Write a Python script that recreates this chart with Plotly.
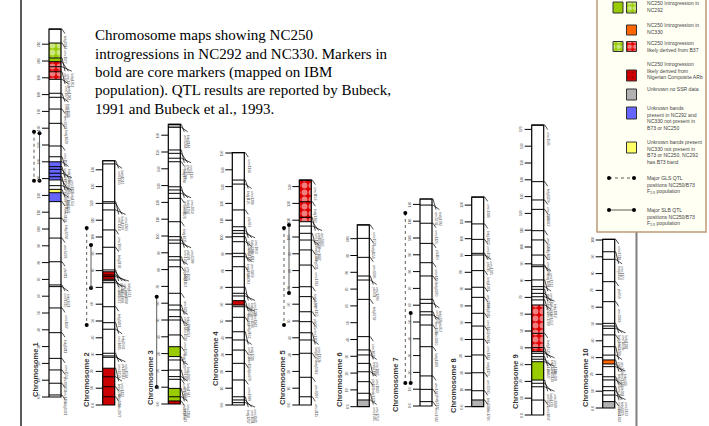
import plotly.graph_objects as go

# ---------------------------------------------------------------- data
chrom_names = ["Chromosome 1", "Chromosome 2", "Chromosome 3", "Chromosome 4", "Chromosome 5",
               "Chromosome 6", "Chromosome 7", "Chromosome 8", "Chromosome 9", "Chromosome 10"]
chrom_length = [219.0, 145.4, 166.5, 150.2, 133.9, 108.2, 123.2, 124.8, 172.6, 100.4]
tick_step = 10

markers_chr1 = [(219.0, "bnlg1014"), (210.7, "umc1177"), (201.8, "phi056"), (199.6, "umc1269"),
                (196.6, "bnlg1953"), (193.6, "umc1073"), (189.1, "bnlg1083"), (180.8, "umc1403"),
                (178.4, "bnlg1178"), (171.4, "umc1071"), (162.9, "bnlg1429"), (149.4, "umc1122"),
                (143.0, "umc1013"), (140.0, "bnlg1884"), (137.1, "umc2047"), (135.5, "bnlg2086"),
                (133.2, "umc1917"), (131.1, "phi037"), (129.2, "umc1035"), (125.8, "bnlg1556"),
                (123.6, "umc1161"), (121.6, "bnlg1025"), (116.3, "umc1128"), (106.4, "bnlg2238"),
                (94.6, "umc1278"), (80.5, "phi011"), (66.7, "umc1335"), (65.7, "bnlg1671"),
                (53.0, "umc1147"), (38.3, "bnlg1811"), (23.0, "umc1553"), (16.1, "phi308707"),
                (8.2, "umc1106"), (1.2, "bnlg1331")]
markers_chr2 = [(145.4, "umc1165"), (143.5, "bnlg1017"), (121.0, "umc1518"), (120.1, "bnlg1297"),
                (116.1, "umc2246"), (104.2, "umc1065"), (93.9, "bnlg1138"), (80.4, "umc1555"),
                (79.3, "phi083"), (77.4, "umc1079"), (76.4, "bnlg1633"), (74.8, "umc1637"),
                (74.0, "bnlg1909"), (72.8, "umc1008"), (58.5, "bnlg1831"), (49.0, "umc1485"),
                (45.1, "bnlg1662"), (30.8, "umc1259"), (29.2, "phi109642"), (28.4, "umc1024"),
                (21.9, "bnlg1338"), (16.8, "umc1422"), (10.9, "bnlg2248"), (4.9, "umc2077")]
markers_chr3 = [(166.5, "umc1394"), (164.7, "bnlg1144"), (151.2, "umc1320"), (149.2, "phi046"),
                (146.3, "umc1136"), (144.2, "bnlg1798"), (129.3, "umc1489"), (127.4, "bnlg1754"),
                (125.4, "umc2050"), (122.4, "umc1174"), (108.5, "bnlg1035"), (99.6, "umc1266"),
                (97.6, "phi029"), (95.7, "umc1399"), (87.7, "bnlg1449"), (85.7, "umc1025"),
                (81.7, "bnlg1113"), (65.9, "umc1223"), (58.9, "umc1167"), (56.0, "bnlg1904"),
                (52.0, "umc1030"), (50.0, "phi053"), (41.1, "umc1504"), (34.1, "bnlg1325"),
                (28.2, "umc1307"), (26.2, "bnlg2047"), (20.2, "umc1742"), (16.3, "bnlg1647"),
                (14.7, "umc1594"), (9.3, "phi243966"), (4.3, "umc2118"), (1.8, "bnlg1523")]
markers_chr4 = [(150.2, "umc1164"), (133.9, "bnlg1126"), (131.5, "umc1294"), (116.1, "phi072"),
                (106.1, "umc1276"), (103.8, "bnlg2291"), (102.2, "umc1963"), (100.2, "bnlg1189"),
                (97.2, "umc1117"), (90.3, "bnlg1937"), (88.3, "umc1869"), (82.3, "phi093"),
                (70.1, "umc1088"), (66.5, "bnlg1265"), (64.9, "umc1329"), (62.1, "bnlg490"),
                (59.5, "umc1194"), (58.5, "umc1943"), (52.2, "bnlg2162"), (43.6, "umc1086"),
                (38.7, "bnlg1784"), (32.7, "umc1058"), (24.8, "phi079"), (14.9, "umc1999"),
                (4.9, "bnlg1217"), (3.0, "umc1101"), (1.4, "umc2041")]
markers_chr5 = [(133.9, "umc1153"), (121.0, "bnlg1346"), (111.7, "umc1019"), (109.1, "phi109188"),
                (106.5, "umc1060"), (102.2, "bnlg1879"), (98.2, "umc1447"), (92.3, "bnlg609"),
                (83.3, "umc1792"), (70.4, "bnlg1208"), (64.5, "umc1155"), (55.5, "phi085"),
                (49.6, "umc1315"), (43.0, "bnlg1046"), (38.7, "umc1153b"), (30.8, "bnlg1382"),
                (16.5, "umc1097"), (4.9, "umc2115")]
markers_chr6 = [(108.2, "umc1520"), (100.2, "bnlg1154"), (88.9, "umc1006"), (77.8, "phi031"),
                (75.4, "umc1296"), (63.9, "bnlg1702"), (41.7, "umc1424"), (33.8, "bnlg2191"),
                (30.8, "umc1887"), (25.8, "phi126"), (20.8, "umc1143"), (14.9, "bnlg1371"),
                (8.0, "umc1595"), (4.0, "umc1753")]
markers_chr7 = [(123.2, "umc1768"), (119.6, "bnlg1792"), (108.8, "umc1125"), (96.8, "phi116"),
                (85.3, "umc1406"), (77.4, "bnlg1070"), (63.5, "umc1567"), (61.1, "bnlg339"),
                (56.1, "umc1015"), (54.2, "phi057"), (48.2, "umc1036"), (35.3, "bnlg1200"),
                (17.9, "umc1426"), (9.9, "bnlg2132"), (2.6, "umc1642")]
markers_chr8 = [(124.8, "umc1384"), (108.8, "bnlg1823"), (99.6, "umc1005"), (91.3, "phi015"),
                (90.3, "umc1075"), (81.0, "bnlg1031"), (71.1, "umc1139"), (65.1, "bnlg2046"),
                (55.6, "umc1457"), (48.0, "phi014"), (40.1, "umc1483"), (30.8, "bnlg1176"),
                (20.2, "umc1360"), (9.5, "bnlg1056"), (4.0, "umc1786")]
markers_chr9 = [(172.6, "umc1505"), (138.9, "bnlg1209"), (128.0, "umc1040"), (122.4, "phi022"),
                (109.7, "umc1267"), (104.2, "bnlg1401"), (95.2, "umc1492"), (89.3, "bnlg1191"),
                (88.3, "umc1733"), (80.4, "phi065"), (76.4, "umc1357"), (74.8, "bnlg127"),
                (72.4, "umc2337"), (70.4, "bnlg1012"), (68.5, "umc1789"), (65.5, "umc1657"),
                (48.6, "bnlg1525"), (40.1, "umc1366"), (37.7, "bnlg1272"), (36.7, "umc1310"),
                (34.7, "phi027"), (33.2, "umc1120"), (31.7, "bnlg619"), (20.8, "umc1231"),
                (18.9, "bnlg1270"), (16.8, "umc2089"), (8.9, "umc1867")]
markers_chr10 = [(100.4, "umc1318"), (93.0, "bnlg1451"), (88.5, "umc1176"), (75.2, "phi050"),
                 (63.3, "umc1038"), (50.4, "bnlg1655"), (48.8, "umc1869b"), (47.4, "bnlg1028"),
                 (43.5, "umc1280"), (36.5, "phi062"), (31.5, "umc1506"), (28.6, "bnlg1839"),
                 (26.2, "umc1344"), (24.6, "bnlg640"), (18.6, "umc1645"), (16.7, "phi041"),
                 (12.7, "umc1053"), (10.3, "bnlg1079"), (7.7, "umc2163"), (3.8, "umc1432")]

segments_chr1 = [(201.8, 210.7, "b37_green"), (199.6, 201.8, "nc292"), (189.1, 199.6, "b37_red"),
                 (129.2, 140.0, "unk_blue"), (121.6, 123.6, "unk_yellow"), (116.3, 121.6, "unk_blue")]
segments_chr2 = [(74.8, 79.3, "arb"), (0.0, 21.9, "arb")]
segments_chr3 = [(164.7, 166.5, "no_ssr"), (28.2, 34.1, "nc292"), (1.8, 9.3, "nc292"), (0.0, 1.8, "arb")]
segments_chr4 = [(59.5, 62.1, "arb")]
segments_chr5 = [(109.1, 133.9, "b37_red")]
segments_chr6 = [(0.0, 4.0, "no_ssr")]
segments_chr7 = []
segments_chr8 = [(0.0, 4.0, "no_ssr")]
segments_chr9 = [(37.7, 65.5, "b37_red"), (20.8, 31.7, "nc292")]
segments_chr10 = [(26.2, 28.6, "nc330"), (0.0, 3.8, "no_ssr")]

qtl_gls = [(1, 157.9, 128.7), (2, 105.4, 47.6), (5, 105.4, 47.6), (7, 114.9, 13.7)]
qtl_slb = [(1, 157.0, 128.7), (2, 95.2, 69.6), (3, 63.9, 10.1), (5, 107.1, 66.7), (7, 55.4, 13.7)]

caption_lines = ["Chromosome maps showing NC250",
                 "introgressions in NC292 and NC330. Markers in",
                 "bold are core markers (mapped on IBM",
                 "population). QTL results are reported by Bubeck,",
                 "1991 and Bubeck et al., 1993."]

legend_entries = [
    (["nc292", "b37_green"], "NC250 Introgression in<br>NC292"),
    (["nc330"], "NC250 Introgression in<br>NC330"),
    (["b37_green", "b37_red"], "NC250 Introgression<br>likely derived from B37"),
    (["arb"], "NC250 Introgression<br>likely derived from<br>Nigerian Composite ARb"),
    (["no_ssr"], "Unknown no SSR data"),
    (["unk_blue"], "Unknown bands<br>present in NC292 and<br>NC330 not present in<br>B73 or NC250"),
    (["unk_yellow"], "Unknown bands present<br>NC330 not present in<br>B73 or NC250, NC292<br>has B73 band"),
    (["gls"], "Major GLS QTL<br>positions NC250/B73<br>F<sub>2:3</sub> population"),
    (["slb"], "Major SLB QTL<br>positions NC250/B73<br>F<sub>2:3</sub> population"),
]

# ---------------------------------------------------------------- styles / layout
W, H = 709, 426
PX_PER_CM = 1.68
BASE_PX = 405.0
Y_MIN = (BASE_PX - H) / PX_PER_CM
Y_MAX = BASE_PX / PX_PER_CM

fills = {
    "nc292": dict(color="#99CC00"),
    "nc330": dict(color="#FF6600"),
    "b37_green": dict(color="#99CC00", pattern=True),
    "b37_red": dict(color="#E00000", pattern=True),
    "arb": dict(color="#CC0000"),
    "no_ssr": dict(color="#B2B2B2"),
    "unk_blue": dict(color="#6666FF"),
    "unk_yellow": dict(color="#FFFF66"),
}

markers_all = [markers_chr1, markers_chr2, markers_chr3, markers_chr4, markers_chr5,
               markers_chr6, markers_chr7, markers_chr8, markers_chr9, markers_chr10]
segments_all = [segments_chr1, segments_chr2, segments_chr3, segments_chr4, segments_chr5,
                segments_chr6, segments_chr7, segments_chr8, segments_chr9, segments_chr10]

bar_left = [49.0, 102.7, 168.3, 232.3, 299.3, 357.3, 420.0, 471.7, 531.7, 602.7]
BAR_W = 12.0
base_px = [397, 405, 404, 405, 405, 406.7, 406, 406.7, 415, 408]
label_pos = [(35, 370), (86, 380), (150, 378), (215, 359), (282, 378),
             (339, 380), (395, 385), (453, 386), (515, 382), (585, 378)]
qtl_x_gls = {1: 34.0, 2: 86.7, 5: 284.0, 7: 405.3}
qtl_x_slb = {1: 39.5, 2: 91.0, 3: 156.7, 5: 289.0, 7: 410.7}


def Y(px):
    """layout pixel row -> axis value"""
    return (BASE_PX - px) / PX_PER_CM


def D(px):
    return px / PX_PER_CM


offset = [(BASE_PX - b) / PX_PER_CM for b in base_px]
centers = [l + BAR_W / 2 for l in bar_left]

fig = go.Figure()
annotations = []
shapes = []

# frame lines
shapes.append(dict(type="line", xref="x", yref="y", x0=21, x1=21, y0=Y(-2), y1=Y(430),
                   line=dict(color="#222222", width=1.5), layer="below"))
shapes.append(dict(type="line", xref="x", yref="y", x0=636.5, x1=636.5, y0=Y(-2), y1=Y(430),
                   line=dict(color="#808080", width=2), layer="below"))
# legend box
shapes.append(dict(type="rect", xref="x", yref="y", x0=597, x1=706, y0=Y(-3), y1=Y(232),
                   fillcolor="#FFFFF4", line=dict(color="#BC9A78", width=1.5), layer="below"))

# chromosome bodies
fig.add_trace(go.Bar(x=centers, y=chrom_length, base=offset, width=[BAR_W] * 10,
                     marker=dict(color="white", line=dict(width=0)), hoverinfo="skip"))

# coloured segments
for key, st in fills.items():
    xs, ys, bs = [], [], []
    for i, segs in enumerate(segments_all):
        for (a, b, k) in segs:
            if k == key:
                xs.append(centers[i]); ys.append(b - a); bs.append(a + offset[i])
    if not xs:
        continue
    mk = dict(color=st["color"], line=dict(width=0))
    if st.get("pattern"):
        mk["pattern"] = dict(shape=".", fgcolor="white", bgcolor=st["color"], size=7,
                             solidity=0.55, fillmode="overlay")
    fig.add_trace(go.Bar(x=xs, y=ys, base=bs, width=[BAR_W] * len(xs), marker=mk, hoverinfo="skip"))

# marker lines across, ticks, outlines, leaders
mx, my, tx, ty, ox, oy, lx, ly = [], [], [], [], [], [], [], []
for i in range(10):
    L, R = bar_left[i], bar_left[i] + BAR_W
    off = offset[i]
    top = chrom_length[i] + off
    ox += [L, R, R, L, L, None]; oy += [off, off, top, top, off, None]
    # ticks
    v = 0
    while v <= chrom_length[i] + 0.01:
        tx += [L - 7, L, None]; ty += [v + off, v + off, None]
        annotations.append(dict(x=L - 10, y=v + off, text="0.0" if v == 0 else str(v), showarrow=False,
                                textangle=-90, font=dict(size=3.4, color="#555555",
                                                        family="Liberation Sans")))
        v += tick_step
    # markers
    ms = sorted(markers_all[i], key=lambda m: -m[0])
    for (p, _) in ms:
        mx += [L, R, None]; my += [p + off, p + off, None]
    groups = []
    for m in ms:
        if groups and (groups[-1][0][0] - m[0]) < D(9) and len(groups[-1]) < 7:
            groups[-1].append(m)
        else:
            groups.append([m])
    for g in groups:
        lab_top = min(p for p, _ in g) + off - D(5)
        for k, (p, name) in enumerate(g):
            xk = R + 4 + 3.4 * k
            lx += [R, R + 1, xk, None]; ly += [p + off, p + off, lab_top + D(0.5), None]
            annotations.append(dict(x=xk + 0.3, y=lab_top, text=name, showarrow=False, textangle=90,
                                    xanchor="center", yanchor="top",
                                    font=dict(size=3.3, color="#555555", family="Liberation Sans")))

fig.add_trace(go.Scatter(x=mx, y=my, mode="lines", line=dict(color="black", width=1), hoverinfo="skip"))
fig.add_trace(go.Scatter(x=tx, y=ty, mode="lines", line=dict(color="black", width=1), hoverinfo="skip"))
fig.add_trace(go.Scatter(x=lx, y=ly, mode="lines", line=dict(color="black", width=0.7), hoverinfo="skip"))
fig.add_trace(go.Scatter(x=ox, y=oy, mode="lines", line=dict(color="black", width=1.2), hoverinfo="skip"))

# QTL bars
for data, xpos, dash in [(qtl_gls, qtl_x_gls, "dot"), (qtl_slb, qtl_x_slb, "solid")]:
    qx, qy = [], []
    for (c, a, b) in data:
        qx += [xpos[c], xpos[c], None]; qy += [a + offset[c - 1], b + offset[c - 1], None]
    fig.add_trace(go.Scatter(x=qx, y=qy, mode="lines+markers", line=dict(color="#333333", width=0.8, dash=dash),
                             marker=dict(color="black", size=4), hoverinfo="skip"))

# chromosome labels
for i, (lxp, lyp) in enumerate(label_pos):
    annotations.append(dict(x=lxp, y=Y(lyp), text="<b>%s</b>" % chrom_names[i], showarrow=False,
                            textangle=-90, font=dict(size=7.5, color="#333333", family="Liberation Sans")))

# caption
cap_y = [35, 53.5, 72, 90.5, 109]
for t, yy in zip(caption_lines, cap_y):
    annotations.append(dict(x=93, y=Y(yy), text=t, showarrow=False, xanchor="left", yanchor="middle",
                            font=dict(size=15, color="black", family="Liberation Serif")))

# legend
leg_y = [(2, 13), (25, 35), (41.5, 51.5), (70, 81), (89, 100), (107, 119), (142, 153), (178, 178), (210, 210)]
leg_text_y = [6.7, 28.5, 46.5, 70, 89.3, 118.3, 151.7, 185, 216.7]
dotted_items = {"gls": "dot", "slb": "solid"}
for (keys, text), (y0, y1), tyy in zip(legend_entries, leg_y, leg_text_y):
    if keys[0] in dotted_items:
        fig.add_trace(go.Scatter(x=[609, 634], y=[Y(y0), Y(y0)], mode="lines+markers",
                                 line=dict(color="#333333", width=0.8, dash=dotted_items[keys[0]]),
                                 marker=dict(color="black", size=4), hoverinfo="skip"))
    else:
        slots = [626.5] if len(keys) == 1 else [613, 626.5]
        for k, xs0 in zip(keys, slots):
            st = fills[k]
            mk = dict(color=st["color"], line=dict(width=1, color="#333333"))
            if st.get("pattern"):
                mk["pattern"] = dict(shape=".", fgcolor="white", bgcolor=st["color"], size=5.5,
                                     solidity=0.55, fillmode="overlay")
            elif k == "arb":
                mk["pattern"] = dict(shape=".", fgcolor="#300000", bgcolor=st["color"], size=5,
                                     solidity=0.08, fillmode="overlay")
            fig.add_trace(go.Bar(x=[xs0 + 5], y=[D(y1 - y0)], base=[Y(y1)], width=[10], marker=mk,
                                 hoverinfo="skip"))
    annotations.append(dict(x=645, y=Y(tyy), text=text, showarrow=False, xanchor="left", yanchor="middle",
                            align="left", font=dict(size=5.1, color="#444444", family="Liberation Sans")))

fig.update_layout(
    width=W, height=H, margin=dict(l=0, r=0, t=0, b=0),
    paper_bgcolor="white", plot_bgcolor="white", showlegend=False, barmode="overlay",
    xaxis=dict(range=[0, W], visible=False, fixedrange=True),
    yaxis=dict(range=[Y_MIN, Y_MAX], visible=False, fixedrange=True),
    annotations=annotations, shapes=shapes,
)
fig.write_html("out.html")
